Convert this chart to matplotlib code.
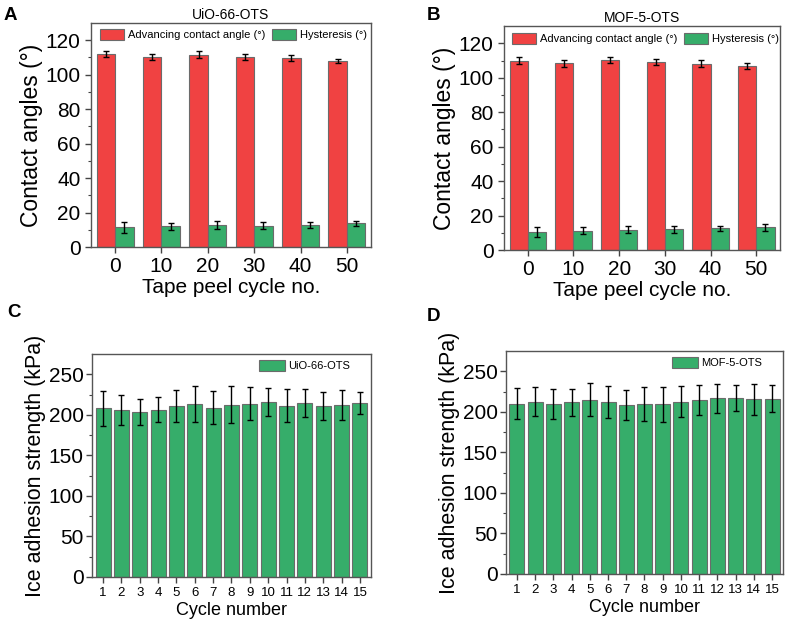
import matplotlib.pyplot as plt
import numpy as np

plt.rcParams['font.family'] = ['Liberation Sans', 'DejaVu Sans']

RED = "#f04242"
GREEN = "#36ad6a"
EDGE = "#6b6b6b"

# contact angle panels
peel_cycles = ["0", "10", "20", "30", "40", "50"]

uio_adv = [112.1, 110.3, 111.7, 110.3, 109.5, 108.0]
uio_adv_err = [1.8, 1.8, 1.8, 1.5, 1.8, 1.3]
uio_hys = [11.6, 12.0, 12.6, 12.4, 12.8, 13.7]
uio_hys_err = [3.2, 2.0, 2.3, 2.2, 2.0, 1.5]

mof_adv = [109.9, 108.3, 110.1, 108.9, 108.1, 106.8]
mof_adv_err = [2.2, 1.8, 1.8, 1.8, 2.0, 1.6]
mof_hys = [10.4, 11.2, 11.8, 12.0, 12.6, 13.2]
mof_hys_err = [3.0, 2.0, 2.0, 2.0, 1.6, 1.9]

# ice adhesion panels
cycles = list(range(1, 16))
uio_ice = [208.0, 206.0, 203.5, 206.2, 210.7, 213.0, 209.0, 212.7, 213.5,
           215.8, 211.3, 214.8, 210.9, 212.7, 214.6]
uio_ice_err = [21.8, 18.6, 16.6, 15.6, 19.7, 22.0, 20.5, 22.6, 20.5,
               17.6, 20.0, 17.2, 17.5, 18.5, 14.0]

mof_ice = [210.2, 212.6, 209.2, 211.5, 215.0, 212.3, 208.4, 210.1, 209.1,
           212.7, 214.6, 216.6, 217.2, 215.4, 216.4]
mof_ice_err = [18.9, 17.8, 18.6, 16.4, 20.7, 19.7, 18.9, 21.0, 22.0,
               18.9, 18.2, 18.2, 16.4, 19.5, 16.4]


def style_axes(ax):
    for s in ax.spines.values():
        s.set_color("#555555")
        s.set_linewidth(1.0)
    ax.tick_params(axis="both", direction="out", length=4, width=1, color="#444444")
    ax.tick_params(axis="y", which="minor", direction="out", length=2.5, width=0.8, color="#444444")
    ax.tick_params(top=False, right=False)


def contact_panel(ax, adv, adv_err, hys, hys_err, title, leg_x, leg_y):
    x = np.arange(len(peel_cycles))
    w = 0.4
    ekw = dict(ecolor="black", elinewidth=1.0, capsize=2.5, capthick=1.0)
    ax.bar(x - w / 2, adv, w, yerr=adv_err, color=RED, edgecolor=EDGE,
           linewidth=0.8, error_kw=ekw, label="Advancing contact angle (°)")
    ax.bar(x + w / 2, hys, w, yerr=hys_err, color=GREEN, edgecolor=EDGE,
           linewidth=0.8, error_kw=ekw, label="Hysteresis (°)")
    ax.set_xticks(x)
    ax.set_xticklabels(peel_cycles)
    ax.set_xlim(-0.52, 5.52)
    ax.set_ylim(0, 130)
    ax.set_yticks(np.arange(0, 121, 20))
    ax.set_yticks(np.arange(10, 130, 20), minor=True)
    ax.tick_params(labelsize=15)
    ax.set_xlabel("Tape peel cycle no.", fontsize=15, labelpad=1)
    ax.set_ylabel("Contact angles (°)", fontsize=16.5, labelpad=2)
    ax.set_title(title, fontsize=10, pad=3)
    ax.legend(loc="upper left", bbox_to_anchor=(leg_x, leg_y), ncol=2,
              frameon=False, fontsize=8, borderpad=0, borderaxespad=0,
              handlelength=2.2, handleheight=1.1, handletextpad=0.35,
              columnspacing=0.55)
    style_axes(ax)


def ice_panel(ax, vals, errs, name):
    ekw = dict(ecolor="black", elinewidth=1.0, capsize=2.5, capthick=1.0)
    ax.bar(cycles, vals, 0.82, yerr=errs, color=GREEN, edgecolor=EDGE,
           linewidth=0.8, error_kw=ekw, label=name)
    ax.set_xticks(cycles)
    ax.set_xlim(0.4, 15.6)
    ax.set_ylim(0, 275)
    ax.set_yticks(np.arange(0, 251, 50))
    ax.set_yticks(np.arange(25, 275, 25), minor=True)
    ax.tick_params(axis="y", labelsize=15, pad=2)
    ax.tick_params(axis="x", labelsize=9.5)
    ax.set_xlabel("Cycle number", fontsize=13, labelpad=2)
    ax.set_ylabel("Ice adhesion strength (kPa)", fontsize=15.5, labelpad=2)
    ax.legend(loc="upper left", bbox_to_anchor=(0.599, 0.973), frameon=False,
              fontsize=8, borderpad=0, borderaxespad=0,
              handlelength=2.35, handleheight=1.2, handletextpad=0.3)
    style_axes(ax)


fig = plt.figure(figsize=(7.9, 6.26), dpi=100)
ax_a = fig.add_axes([0.1152, 0.6054, 0.3544, 0.3578])
ax_b = fig.add_axes([0.638, 0.6006, 0.3494, 0.3578])
ax_c = fig.add_axes([0.1165, 0.0783, 0.353, 0.3562])
ax_d = fig.add_axes([0.6405, 0.0831, 0.3506, 0.3562])

contact_panel(ax_a, uio_adv, uio_adv_err, uio_hys, uio_hys_err, "UiO-66-OTS", 0.032, 0.973)
contact_panel(ax_b, mof_adv, mof_adv_err, mof_hys, mof_hys_err, "MOF-5-OTS", 0.029, 0.969)
ice_panel(ax_c, uio_ice, uio_ice_err, "UiO-66-OTS")
ice_panel(ax_d, mof_ice, mof_ice_err, "MOF-5-OTS")

for letter, (fx, fy) in zip("ABCD", [(0.004, 0.968), (0.5405, 0.968),
                                      (0.009, 0.4936), (0.5405, 0.4872)]):
    fig.text(fx, fy, letter, fontsize=13.5, fontweight="bold", va="baseline", ha="left")

fig.savefig("out.png", dpi=100)
